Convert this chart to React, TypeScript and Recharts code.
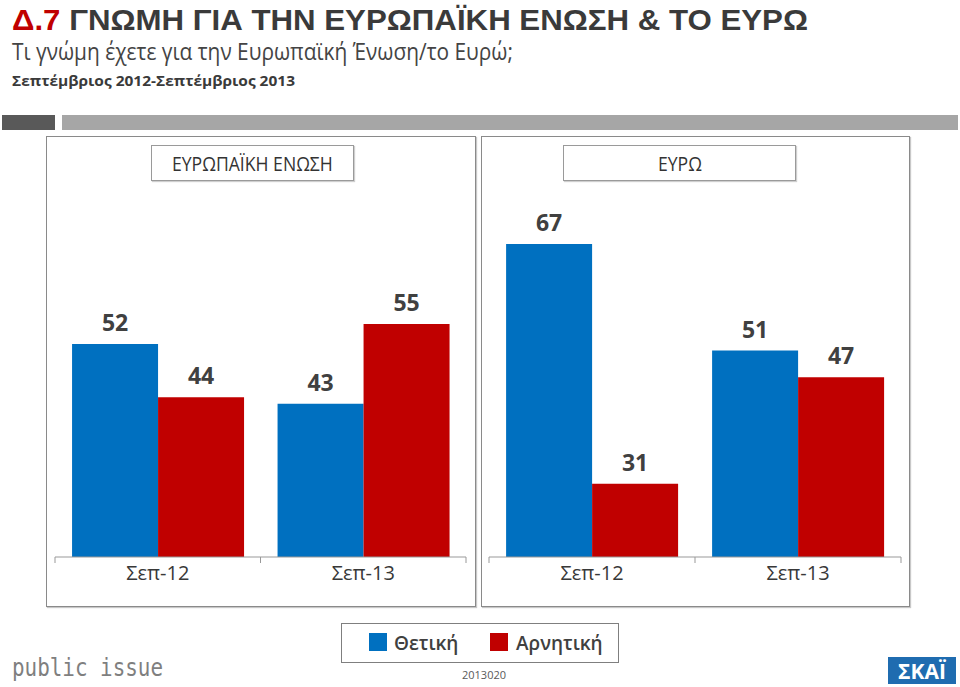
import React from 'react';
import { BarChart, Bar, XAxis, YAxis, LabelList } from 'recharts';

const categories = ['Σεπ-12', 'Σεπ-13'];
const euPositive = [52, 43];
const euNegative = [44, 55];
const euroPositive = [67, 51];
const euroNegative = [31, 47];
const seriesNames = ['Θετική', 'Αρνητική'];
const panelTitles = ['ΕΥΡΩΠΑΪΚΗ ΕΝΩΣΗ', 'ΕΥΡΩ'];
const yDomain: [number, number] = [20, 70];

const BLUE = '#0070C0';
const RED = '#C00000';
const TEXT = '#404040';

const euData = categories.map((c, i) => ({ cat: c, pos: euPositive[i], neg: euNegative[i] }));
const euroData = categories.map((c, i) => ({ cat: c, pos: euroPositive[i], neg: euroNegative[i] }));

const CHART_H = 471;
const MARGIN_TOP = 88;
const AXIS_H = 50;

const makeTick = (n: number, plotWidth: number) => (props: any) => {
  const { x, y, payload, index } = props;
  const half = plotWidth / n / 2;
  return (
    <g>
      <line x1={x - half} x2={x - half} y1={y - 6} y2={y} stroke="#999" strokeWidth={1} />
      {index === n - 1 && (
        <line x1={x + half} x2={x + half} y1={y - 6} y2={y} stroke="#999" strokeWidth={1} />
      )}
      <text
        x={x}
        y={y + 17}
        textAnchor="middle"
        fontFamily="'Open Sans', sans-serif"
        fontWeight={500}
        fontSize={20}
        fill="#383838"
      >
        {payload.value}
      </text>
    </g>
  );
};

const ValueLabel = (props: any) => {
  const { x, y, width, value } = props;
  return (
    <text
      x={Number(x) + Number(width) / 2}
      y={Number(y) - 13}
      textAnchor="middle"
      fontFamily="'Open Sans', sans-serif"
      fontWeight={700}
      fontSize={23}
      fill={TEXT}
    >
      {value}
    </text>
  );
};

function Panel({ data, left, width, mLeft, mRight, title, boxLeft, boxWidth }: any) {
  const plotWidth = width - mLeft - mRight;
  return (
    <>
      <div
        style={{
          position: 'absolute',
          left,
          top: 136,
          width: width - 2,
          height: CHART_H - 2,
          border: '1px solid #8a8a8a',
          boxShadow: '1px 1px 1px #c8c8c8',
          background: '#fff',
        }}
      />
      <div
        style={{
          position: 'absolute',
          left: boxLeft,
          top: 145,
          width: boxWidth - 2,
          height: 34,
          border: '1px solid #9a9a9a',
          boxShadow: '1px 1px 1px #cfcfcf',
          background: '#fff',
          display: 'flex',
          alignItems: 'center',
          justifyContent: 'center',
          fontFamily: "'Open Sans', sans-serif",
          fontSize: 20,
          fontWeight: 500,
          color: '#333',
        }}
      >
        <span style={{ transform: 'scaleX(0.88)', display: 'inline-block', whiteSpace: 'nowrap' }}>{title}</span>
      </div>
      <div style={{ position: 'absolute', left, top: 136, width, height: CHART_H }}>
        <BarChart
          width={width}
          height={CHART_H}
          data={data}
          margin={{ top: MARGIN_TOP, right: mRight, bottom: 0, left: mLeft }}
          barCategoryGap="8.3%"
          barGap={0}
        >
          <XAxis
            dataKey="cat"
            height={AXIS_H}
            axisLine={{ stroke: '#999' }}
            tickLine={false}
            tickSize={6}
            tickMargin={0}
            interval={0}
            tick={makeTick(data.length, plotWidth)}
          />
          <YAxis hide domain={yDomain} />
          <Bar dataKey="pos" name={seriesNames[0]} fill={BLUE} isAnimationActive={false}>
            <LabelList dataKey="pos" content={ValueLabel} />
          </Bar>
          <Bar dataKey="neg" name={seriesNames[1]} fill={RED} isAnimationActive={false}>
            <LabelList dataKey="neg" content={ValueLabel} />
          </Bar>
        </BarChart>
      </div>
    </>
  );
}

export default function App() {
  return (
    <div style={{ position: 'absolute', left: 0, top: 0, width: 960, height: 687, background: '#fff', overflow: 'hidden' }}>
      <svg width={960} height={135} style={{ position: 'absolute', left: 0, top: 0 }}>
        <text
          x={12}
          y={29.5}
          fontFamily="'Liberation Sans Narrow', 'Liberation Sans', Arial, sans-serif"
          fontWeight={700}
          fontSize={30}
          textLength={796}
          lengthAdjust="spacingAndGlyphs"
          fill="#3a3a3a"
        >
          <tspan fill={RED}>Δ.7</tspan> ΓΝΩΜΗ ΓΙΑ ΤΗΝ ΕΥΡΩΠΑΪΚΗ ΕΝΩΣΗ &amp; ΤΟ ΕΥΡΩ
        </text>
        <text
          x={12}
          y={60}
          fontFamily="'Open Sans', sans-serif"
          fontSize={23}
          textLength={501}
          lengthAdjust="spacingAndGlyphs"
          fill="#444"
        >
          Τι γνώμη έχετε για την Ευρωπαϊκή Ένωση/το Ευρώ;
        </text>
        <text
          x={12}
          y={86}
          fontFamily="'Open Sans', sans-serif"
          fontWeight={700}
          fontSize={15}
          textLength={283}
          lengthAdjust="spacingAndGlyphs"
          fill="#3a3a3a"
        >
          Σεπτέμβριος 2012-Σεπτέμβριος 2013
        </text>
        <rect x={2} y={115} width={53} height={15} fill="#595959" />
        <rect x={62} y={115} width={896} height={15} fill="#a6a6a6" />
      </svg>

      <Panel data={euData} left={46} width={430} mLeft={9} mRight={10} title={panelTitles[0]} boxLeft={151} boxWidth={203} />
      <Panel data={euroData} left={481} width={429} mLeft={8} mRight={9} title={panelTitles[1]} boxLeft={563} boxWidth={233} />

      <svg width={960} height={80} style={{ position: 'absolute', left: 0, top: 610 }}>
        <rect x={341.5} y={13.5} width={277} height={39} fill="#fff" stroke="#7f7f7f" strokeWidth={1} />
        <rect x={369} y={23} width={18} height={18} fill={BLUE} />
        <text x={394} y={40} fontFamily="'Open Sans', sans-serif" fontWeight={600} fontSize={19} fill={TEXT}>
          {seriesNames[0]}
        </text>
        <rect x={490} y={23} width={18} height={18} fill={RED} />
        <text x={516} y={40} fontFamily="'Open Sans', sans-serif" fontWeight={600} fontSize={19} fill={TEXT}>
          {seriesNames[1]}
        </text>
        <text x={484} y={69} textAnchor="middle" fontFamily="'Open Sans', sans-serif" fontSize={11} fill="#595959">
          2013020
        </text>
        <text
          x={12}
          y={66}
          fontFamily="'DejaVu Sans Mono', monospace"
          fontSize={24}
          textLength={151}
          lengthAdjust="spacingAndGlyphs"
          fill="#7f7f7f"
        >
          public issue
        </text>
        <rect x={888} y={47} width={68} height={27} fill="#1f6cb0" />
        <text x={922} y={69} textAnchor="middle" fontFamily="'Open Sans', sans-serif" fontWeight={700} fontSize={21} fill="#fff">
          ΣΚΑΪ
        </text>
      </svg>
    </div>
  );
}
